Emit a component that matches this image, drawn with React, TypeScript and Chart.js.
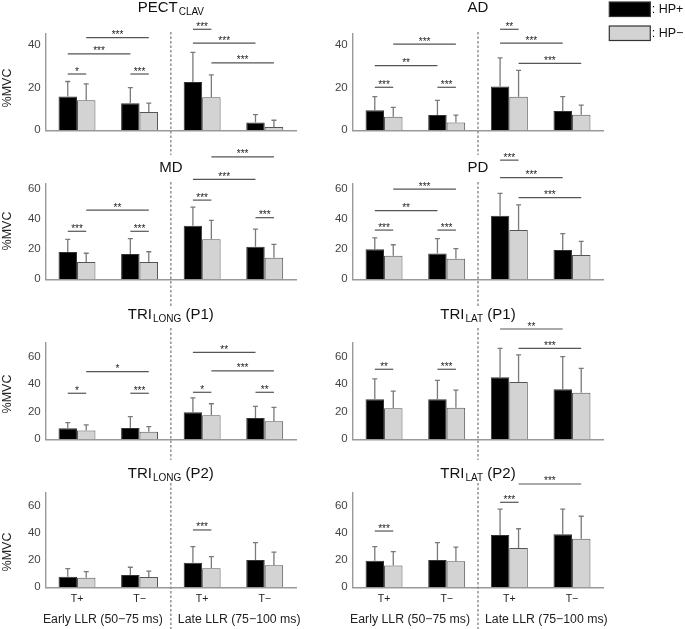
import React, { useEffect, useRef } from 'react';
import { Chart, registerables } from 'chart.js';

Chart.register(...registerables);

const FONT = '"Liberation Sans", Arial, Helvetica, sans-serif';

// ---------- DATA ----------
const CATEGORIES = ['T+', 'T−', 'T+', 'T−'];
const SERIES = ['HP+', 'HP−'];
const PHASES = ['Early LLR (50−75 ms)', 'Late LLR (75−100 ms)'];

const PECT_HP_PLUS = [15.8, 12.6, 22.6, 3.6];
const PECT_HP_PLUS_SD = [7.0, 7.3, 13.8, 3.7];
const PECT_HP_MINUS = [14.0, 8.5, 15.5, 1.6];
const PECT_HP_MINUS_SD = [7.7, 4.2, 10.4, 3.1];

const AD_HP_PLUS = [9.4, 7.1, 20.5, 9.0];
const AD_HP_PLUS_SD = [6.3, 6.9, 13.3, 6.7];
const AD_HP_MINUS = [6.3, 3.6, 15.7, 7.3];
const AD_HP_MINUS_SD = [4.4, 3.5, 12.3, 4.5];

const MD_HP_PLUS = [18.0, 16.7, 35.4, 21.5];
const MD_HP_PLUS_SD = [8.4, 10.1, 12.3, 11.7];
const MD_HP_MINUS = [11.4, 11.4, 26.4, 14.3];
const MD_HP_MINUS_SD = [5.8, 6.8, 12.5, 8.8];

const PD_HP_PLUS = [19.8, 17.1, 41.9, 19.3];
const PD_HP_PLUS_SD = [7.6, 9.7, 14.8, 10.8];
const PD_HP_MINUS = [15.6, 13.6, 32.5, 16.0];
const PD_HP_MINUS_SD = [7.2, 6.6, 16.7, 9.0];

const TRI_LONG_P1_HP_PLUS = [8.0, 8.2, 19.6, 15.5];
const TRI_LONG_P1_HP_PLUS_SD = [4.1, 8.2, 10.4, 8.4];
const TRI_LONG_P1_HP_MINUS = [6.3, 5.5, 17.4, 13.1];
const TRI_LONG_P1_HP_MINUS_SD = [4.1, 3.7, 8.4, 10.1];

const TRI_LAT_P1_HP_PLUS = [29.0, 29.0, 45.0, 36.3];
const TRI_LAT_P1_HP_PLUS_SD = [14.8, 13.8, 21.0, 23.7];
const TRI_LAT_P1_HP_MINUS = [22.5, 22.9, 41.6, 33.8];
const TRI_LAT_P1_HP_MINUS_SD = [12.5, 12.7, 19.6, 17.7];

const TRI_LONG_P2_HP_PLUS = [7.8, 9.1, 18.2, 20.1];
const TRI_LONG_P2_HP_PLUS_SD = [6.0, 5.7, 11.8, 12.8];
const TRI_LONG_P2_HP_MINUS = [7.1, 7.6, 14.0, 16.2];
const TRI_LONG_P2_HP_MINUS_SD = [4.4, 4.4, 8.6, 9.8];

const TRI_LAT_P2_HP_PLUS = [19.6, 20.1, 38.6, 39.1];
const TRI_LAT_P2_HP_PLUS_SD = [10.4, 12.8, 19.0, 18.5];
const TRI_LAT_P2_HP_MINUS = [16.0, 19.2, 29.0, 35.9];
const TRI_LAT_P2_HP_MINUS_SD = [10.3, 10.5, 14.2, 16.5];

// significance: [groupA, seriesA, groupB, seriesB, level (%MVC), label]
type Sig = [number, number, number, number, number, string];
const PECT_SIG: Sig[] = [
  [0, 0, 0, 1, 26.3, '*'],
  [1, 0, 1, 1, 26.3, '***'],
  [0, 0, 1, 0, 35.7, '***'],
  [0, 1, 1, 1, 43.3, '***'],
  [2, 0, 2, 1, 47.2, '***'],
  [2, 0, 3, 0, 40.7, '***'],
  [2, 1, 3, 1, 31.5, '***'],
];
const AD_SIG: Sig[] = [
  [0, 0, 0, 1, 20.1, '***'],
  [1, 0, 1, 1, 20.1, '***'],
  [0, 0, 1, 0, 30.2, '**'],
  [0, 1, 1, 1, 40.3, '***'],
  [2, 0, 2, 1, 47.2, '**'],
  [2, 0, 3, 0, 40.7, '***'],
  [2, 1, 3, 1, 31.3, '***'],
];
const MD_SIG: Sig[] = [
  [0, 0, 0, 1, 31.7, '***'],
  [1, 0, 1, 1, 31.7, '***'],
  [0, 1, 1, 1, 45.7, '**'],
  [2, 0, 2, 1, 52.3, '***'],
  [2, 0, 3, 0, 66.0, '***'],
  [2, 1, 3, 1, 80.9, '***'],
  [3, 0, 3, 1, 40.7, '***'],
];
const PD_SIG: Sig[] = [
  [0, 0, 0, 1, 32.5, '***'],
  [1, 0, 1, 1, 32.5, '***'],
  [0, 0, 1, 0, 45.3, '**'],
  [0, 1, 1, 1, 59.6, '***'],
  [2, 0, 2, 1, 78.7, '***'],
  [2, 0, 3, 0, 67.1, '***'],
  [2, 1, 3, 1, 53.9, '***'],
];
const TRI_LONG_P1_SIG: Sig[] = [
  [0, 0, 0, 1, 33.4, '*'],
  [1, 0, 1, 1, 33.4, '***'],
  [0, 1, 1, 1, 49.1, '*'],
  [2, 0, 2, 1, 34.1, '*'],
  [3, 0, 3, 1, 34.1, '**'],
  [2, 1, 3, 1, 49.6, '***'],
  [2, 0, 3, 0, 63.1, '**'],
];
const TRI_LAT_P1_SIG: Sig[] = [
  [0, 0, 0, 1, 50.8, '**'],
  [1, 0, 1, 1, 50.8, '***'],
  [2, 0, 3, 0, 80.0, '**'],
  [2, 1, 3, 1, 66.0, '***'],
];
const TRI_LONG_P2_SIG: Sig[] = [[2, 0, 2, 1, 42.3, '***']];
const TRI_LAT_P2_SIG: Sig[] = [
  [0, 0, 0, 1, 41.5, '***'],
  [2, 0, 2, 1, 62.7, '***'],
  [2, 1, 3, 1, 76.2, '***'],
];

const Y_MAX_BY_ROW = [45, 63, 70, 70];
const Y_STEP = 20;

// ---------- LAYOUT ----------
const COLS = [
  { left: 0, width: 318, yW: 45.7, padR: 22 },
  { left: 318, width: 367, yW: 34.7, padR: 81.7 },
];
const ROWS = [
  { top: 0, height: 157, areaTop: 34, areaBottom: 130.3, xH: 0, dashTop: 32, dashBottom: 155, titleY: 8, yTitleY: 88 },
  { top: 146, height: 162, areaTop: 183.9, areaBottom: 279.3, xH: 0, dashTop: 182, dashBottom: 306, titleY: 168, yTitleY: 231 },
  { top: 300, height: 162, areaTop: 342.8, areaBottom: 439.3, xH: 0, dashTop: 328, dashBottom: 460, titleY: 315, yTitleY: 394 },
  { top: 455, height: 174, areaTop: 492.4, areaBottom: 587.3, xH: 20, dashTop: 483, dashBottom: 629, titleY: 474, yTitleY: 552 },
];

const PANELS = [
  { title: ['PECT', 'CLAV', ''], row: 0, col: 0, plus: PECT_HP_PLUS, plusSd: PECT_HP_PLUS_SD, minus: PECT_HP_MINUS, minusSd: PECT_HP_MINUS_SD, sig: PECT_SIG },
  { title: ['AD', '', ''], row: 0, col: 1, plus: AD_HP_PLUS, plusSd: AD_HP_PLUS_SD, minus: AD_HP_MINUS, minusSd: AD_HP_MINUS_SD, sig: AD_SIG },
  { title: ['MD', '', ''], row: 1, col: 0, plus: MD_HP_PLUS, plusSd: MD_HP_PLUS_SD, minus: MD_HP_MINUS, minusSd: MD_HP_MINUS_SD, sig: MD_SIG },
  { title: ['PD', '', ''], row: 1, col: 1, plus: PD_HP_PLUS, plusSd: PD_HP_PLUS_SD, minus: PD_HP_MINUS, minusSd: PD_HP_MINUS_SD, sig: PD_SIG },
  { title: ['TRI', 'LONG', ' (P1)'], row: 2, col: 0, plus: TRI_LONG_P1_HP_PLUS, plusSd: TRI_LONG_P1_HP_PLUS_SD, minus: TRI_LONG_P1_HP_MINUS, minusSd: TRI_LONG_P1_HP_MINUS_SD, sig: TRI_LONG_P1_SIG },
  { title: ['TRI', 'LAT', ' (P1)'], row: 2, col: 1, plus: TRI_LAT_P1_HP_PLUS, plusSd: TRI_LAT_P1_HP_PLUS_SD, minus: TRI_LAT_P1_HP_MINUS, minusSd: TRI_LAT_P1_HP_MINUS_SD, sig: TRI_LAT_P1_SIG },
  { title: ['TRI', 'LONG', ' (P2)'], row: 3, col: 0, plus: TRI_LONG_P2_HP_PLUS, plusSd: TRI_LONG_P2_HP_PLUS_SD, minus: TRI_LONG_P2_HP_MINUS, minusSd: TRI_LONG_P2_HP_MINUS_SD, sig: TRI_LONG_P2_SIG },
  { title: ['TRI', 'LAT', ' (P2)'], row: 3, col: 1, plus: TRI_LAT_P2_HP_PLUS, plusSd: TRI_LAT_P2_HP_PLUS_SD, minus: TRI_LAT_P2_HP_MINUS, minusSd: TRI_LAT_P2_HP_MINUS_SD, sig: TRI_LAT_P2_SIG },
];

function makePlugin(panel: any) {
  const row = ROWS[panel.row];
  const col = COLS[panel.col];
  return {
    id: 'panelDecor',
    afterDatasetsDraw(chart: any) {
      const ctx = chart.ctx;
      const ys = chart.scales.y;
      const means = [panel.plus, panel.minus];
      const sds = [panel.plusSd, panel.minusSd];
      ctx.save();
      ctx.strokeStyle = '#7a7a7a';
      ctx.lineWidth = 1.3;
      for (let d = 0; d < 2; d++) {
        const meta = chart.getDatasetMeta(d);
        meta.data.forEach((bar: any, i: number) => {
          const y0 = ys.getPixelForValue(means[d][i]);
          const y1 = ys.getPixelForValue(means[d][i] + sds[d][i]);
          ctx.beginPath();
          ctx.moveTo(bar.x, y0);
          ctx.lineTo(bar.x, y1);
          ctx.moveTo(bar.x - 2.5, y1);
          ctx.lineTo(bar.x + 2.5, y1);
          ctx.stroke();
        });
      }
      ctx.restore();
    },
    afterDraw(chart: any) {
      const ctx = chart.ctx;
      const xs = chart.scales.x;
      const ys = chart.scales.y;
      const area = chart.chartArea;
      ctx.save();
      // dashed separator
      const dashX = (xs.getPixelForValue(1) + xs.getPixelForValue(2)) / 2;
      ctx.strokeStyle = '#8a8a8a';
      ctx.lineWidth = 1.4;
      ctx.setLineDash([2.5, 2]);
      ctx.beginPath();
      ctx.moveTo(dashX, row.dashTop - row.top);
      ctx.lineTo(dashX, row.dashBottom - row.top);
      ctx.stroke();
      ctx.setLineDash([]);

      // significance brackets
      const metas = [chart.getDatasetMeta(0), chart.getDatasetMeta(1)];
      panel.sig.forEach((s: Sig) => {
        const xa = metas[s[1]].data[s[0]].x;
        const xb = metas[s[3]].data[s[2]].x;
        const y = ys.getPixelForValue(s[4]);
        ctx.strokeStyle = '#555';
        ctx.lineWidth = 1.2;
        ctx.beginPath();
        ctx.moveTo(xa, y);
        ctx.lineTo(xb, y);
        ctx.stroke();
        ctx.fillStyle = '#222';
        ctx.font = `10px ${FONT}`;
        ctx.textAlign = 'center';
        ctx.textBaseline = 'alphabetic';
        ctx.fillText(s[5], (xa + xb) / 2, y + 0.5);
      });

      // title
      const [main, sub, suffix] = panel.title;
      const cx = (area.left + area.right) / 2;
      const cy = row.titleY - row.top;
      ctx.font = `15px ${FONT}`;
      const wMain = ctx.measureText(main).width;
      const wSuf = ctx.measureText(suffix).width;
      ctx.font = `10px ${FONT}`;
      const wSub = sub ? ctx.measureText(sub).width + 1 : 0;
      let tx = cx - (wMain + wSub + wSuf) / 2;
      ctx.fillStyle = '#111';
      ctx.textAlign = 'left';
      ctx.textBaseline = 'middle';
      ctx.font = `15px ${FONT}`;
      ctx.fillText(main, tx, cy);
      tx += wMain + (sub ? 1 : 0);
      if (sub) {
        ctx.font = `10px ${FONT}`;
        ctx.fillText(sub, tx, cy + 4);
        tx += wSub - 1;
      }
      if (suffix) {
        ctx.font = `15px ${FONT}`;
        ctx.fillText(suffix, tx, cy);
      }

      // y title
      if (panel.col === 0) {
        ctx.save();
        ctx.translate(7.5, row.yTitleY - row.top);
        ctx.rotate(-Math.PI / 2);
        ctx.font = `12.5px ${FONT}`;
        ctx.fillStyle = '#222';
        ctx.textAlign = 'center';
        ctx.textBaseline = 'middle';
        ctx.fillText('%MVC', 0, 0);
        ctx.restore();
      }

      // phase labels on bottom row
      if (panel.row === ROWS.length - 1) {
        ctx.font = `12.3px ${FONT}`;
        ctx.fillStyle = '#222';
        ctx.textBaseline = 'middle';
        const ly = 620 - row.top;
        ctx.textAlign = 'right';
        ctx.fillText(PHASES[0], dashX - 8, ly);
        ctx.textAlign = 'left';
        ctx.fillText(PHASES[1], dashX + 7, ly);
      }

      // legend
      if (panel.row === 0 && panel.col === 1) {
        const lx = 609.3 - col.left;
        const fills = ['#000', '#d3d3d3'];
        const ly = [2, 26];
        for (let k = 0; k < 2; k++) {
          ctx.fillStyle = fills[k];
          ctx.fillRect(lx, ly[k], 41, 14.5);
          ctx.strokeStyle = '#333';
          ctx.lineWidth = 1.2;
          ctx.strokeRect(lx, ly[k], 41, 14.5);
          ctx.fillStyle = '#111';
          ctx.font = `12.5px ${FONT}`;
          ctx.textAlign = 'left';
          ctx.textBaseline = 'middle';
          ctx.fillText(': ' + SERIES[k], lx + 42.5, ly[k] + 8);
        }
      }
      ctx.restore();
    },
  };
}

export default function App() {
  const refs = useRef<(HTMLCanvasElement | null)[]>([]);

  useEffect(() => {
    const charts: Chart[] = [];
    PANELS.forEach((panel, idx) => {
      const canvas = refs.current[idx];
      if (!canvas) return;
      const row = ROWS[panel.row];
      const col = COLS[panel.col];
      const bottomRow = panel.row === ROWS.length - 1;
      const chart = new Chart(canvas, {
        type: 'bar',
        data: {
          labels: CATEGORIES,
          datasets: [
            {
              label: SERIES[0],
              data: panel.plus,
              backgroundColor: '#000000',
              borderColor: '#333333',
              borderWidth: 1,
              categoryPercentage: 0.59,
              barPercentage: 1,
            },
            {
              label: SERIES[1],
              data: panel.minus,
              backgroundColor: '#d3d3d3',
              borderColor: '#555555',
              borderWidth: 1,
              categoryPercentage: 0.59,
              barPercentage: 1,
            },
          ],
        },
        options: {
          animation: false,
          responsive: false,
          maintainAspectRatio: false,
          devicePixelRatio: 1,
          events: [],
          layout: {
            padding: {
              left: 0,
              right: col.padR,
              top: row.areaTop - row.top,
              bottom: row.height - (row.areaBottom - row.top) - row.xH,
            },
          },
          plugins: {
            legend: { display: false },
            tooltip: { enabled: false },
            title: { display: false },
          },
          scales: {
            x: {
              grid: { display: false, drawTicks: false },
              border: { color: '#999999', width: 1.4 },
              ticks: {
                display: bottomRow,
                color: '#222',
                font: { size: 10.5, family: FONT },
                padding: 6,
                maxRotation: 0,
                autoSkip: false,
              },
              afterFit: (s: any) => {
                s.height = row.xH;
              },
            },
            y: {
              min: 0,
              max: Y_MAX_BY_ROW[panel.row],
              grid: { display: false, drawTicks: false },
              border: { color: '#999999', width: 1.4 },
              ticks: {
                stepSize: Y_STEP,
                includeBounds: false,
                color: '#444',
                font: { size: 11.5, family: FONT },
                padding: 5,
              },
              afterFit: (s: any) => {
                s.width = col.yW;
              },
            },
          },
        } as any,
        plugins: [makePlugin(panel)],
      });
      charts.push(chart);
    });
    return () => charts.forEach((c) => c.destroy());
  }, []);

  return (
    <div style={{ position: 'absolute', left: 0, top: 0, width: 685, height: 629, background: '#fff' }}>
      {PANELS.map((panel, idx) => {
        const row = ROWS[panel.row];
        const col = COLS[panel.col];
        return (
          <canvas
            key={idx}
            ref={(el) => {
              refs.current[idx] = el;
            }}
            width={col.width}
            height={row.height}
            style={{ position: 'absolute', left: col.left, top: row.top, width: col.width, height: row.height }}
          />
        );
      })}
    </div>
  );
}
